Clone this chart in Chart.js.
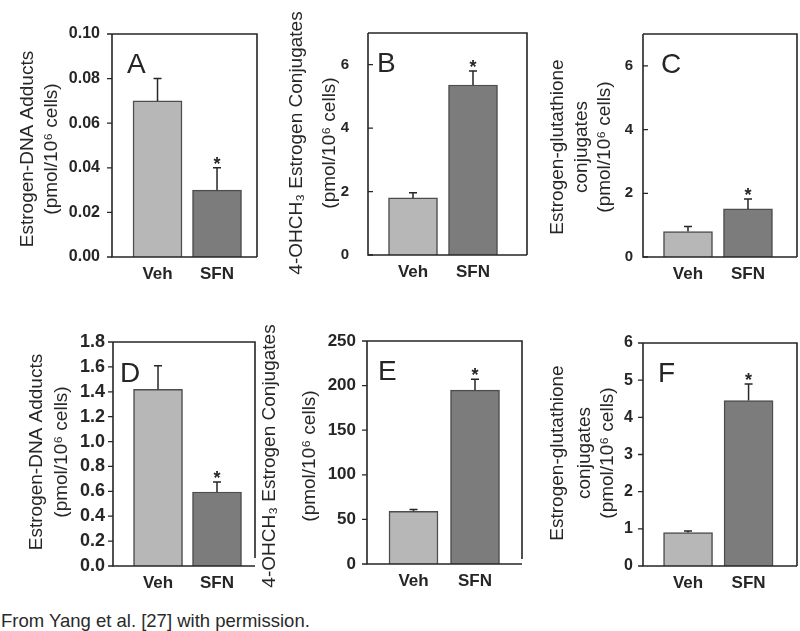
<!DOCTYPE html>
<html>
<head>
<meta charset="utf-8">
<script src="https://cdn.jsdelivr.net/npm/chart.js@4.4.0/dist/chart.umd.min.js"></script>
<style>
  body { margin: 0; background: #fff; width: 800px; height: 631px; position: relative; overflow: hidden; font-family: 'Liberation Sans', Arial, sans-serif; }
  canvas { position: absolute; }
  #note { position: absolute; left: 1px; top: 611px; font-size: 18.5px; line-height: 20px; color: #2a2a2a; white-space: nowrap; }
</style>
</head>
<body>
<canvas id="chart-a"></canvas>
<canvas id="chart-b"></canvas>
<canvas id="chart-c"></canvas>
<canvas id="chart-d"></canvas>
<canvas id="chart-e"></canvas>
<canvas id="chart-f"></canvas>
<div id="note">From Yang et al. [27] with permission.</div>
<script>
const GROUPS = ['Veh', 'SFN'];
const SIG = [false, true];

const A_MEANS = [0.070, 0.030];
const A_ERRORS = [0.010, 0.010];
const A_TICKS = [0, 0.02, 0.04, 0.06, 0.08, 0.10];

const B_MEANS = [1.80, 5.36];
const B_ERRORS = [0.16, 0.44];
const B_TICKS = [0, 2, 4, 6];

const C_MEANS = [0.80, 1.51];
const C_ERRORS = [0.16, 0.31];
const C_TICKS = [0, 2, 4, 6];

const D_MEANS = [1.42, 0.595];
const D_ERRORS = [0.19, 0.08];
const D_TICKS = [0, 0.2, 0.4, 0.6, 0.8, 1.0, 1.2, 1.4, 1.6, 1.8];

const E_MEANS = [59, 195];
const E_ERRORS = [2, 12];
const E_TICKS = [0, 50, 100, 150, 200, 250];

const F_MEANS = [0.90, 4.45];
const F_ERRORS = [0.04, 0.45];
const F_TICKS = [0, 1, 2, 3, 4, 5, 6];

const ADDUCT_TITLE = ['Estrogen-DNA Adducts', '(pmol/10\u2076 cells)'];
const METHYL_TITLE = ['4-OHCH\u2083 Estrogen Conjugates', '(pmol/10\u2076 cells)'];
const GSH_TITLE = ['Estrogen-glutathione', 'conjugates', '(pmol/10\u2076 cells)'];

const FONT = "'Liberation Sans', Arial, sans-serif";
const INK = '#262626';
const BAR_FILLS = ['#b7b7b7', '#7c7c7c'];
const ROW_H = 300;

Chart.defaults.font.family = FONT;
Chart.defaults.color = INK;

const panels = [
  { id: 'chart-a', letter: 'A', means: A_MEANS, errors: A_ERRORS, ticks: A_TICKS, max: 0.1, decimals: 2,
    title: ADDUCT_TITLE, ox: 0, oy: 0, box: [112, 34, 257, 257], xRange: [-0.765, 1.672],
    tickFont: { size: 16, weight: 'bold' }, tickDir: -1, gap: 12, rightGap: 0,
    titleX: [28, 52], titleY: 149, letterPos: [127, 73] },
  { id: 'chart-b', letter: 'B', means: B_MEANS, errors: B_ERRORS, ticks: B_TICKS, max: 7, decimals: 0,
    title: METHYL_TITLE, ox: 258, oy: 0, box: [368, 33, 527, 255], xRange: [-0.75, 1.9],
    tickFont: { size: 15, weight: 'bold' }, tickDir: 1, gap: 19, rightGap: 0,
    titleX: [297, 330], titleY: 143, letterPos: [377, 72] },
  { id: 'chart-c', letter: 'C', means: C_MEANS, errors: C_ERRORS, ticks: C_TICKS, max: 7, decimals: 0,
    title: GSH_TITLE, ox: 540, oy: 0, box: [643, 34, 797, 257], xRange: [-0.75, 1.817],
    tickFont: { size: 15, weight: 'bold' }, tickDir: 1, gap: 10, rightGap: 0,
    titleX: [558, 582, 605], titleY: 147, letterPos: [661, 73] },
  { id: 'chart-d', letter: 'D', means: D_MEANS, errors: D_ERRORS, ticks: D_TICKS, max: 1.8, decimals: 1,
    title: ADDUCT_TITLE, ox: 0, oy: 300, box: [113, 342, 255, 566], xRange: [-0.763, 1.644],
    tickFont: { size: 18, weight: 'bold' }, tickDir: -1, gap: 8, rightGap: 8,
    titleX: [37, 62], titleY: 452, letterPos: [120, 382] },
  { id: 'chart-e', letter: 'E', means: E_MEANS, errors: E_ERRORS, ticks: E_TICKS, max: 250, decimals: 0,
    title: METHYL_TITLE, ox: 258, oy: 300, box: [367, 341, 522, 564], xRange: [-0.756, 1.764],
    tickFont: { size: 17, weight: 'bold' }, tickDir: -1, gap: 11, rightGap: 5,
    titleX: [270, 310], titleY: 456, letterPos: [378, 380] },
  { id: 'chart-f', letter: 'F', means: F_MEANS, errors: F_ERRORS, ticks: F_TICKS, max: 6, decimals: 0,
    title: GSH_TITLE, ox: 540, oy: 300, box: [643, 343, 797, 566], xRange: [-0.744, 1.80],
    tickFont: { size: 16, weight: 'bold' }, tickDir: -1, gap: 10, rightGap: 0,
    titleX: [558, 585, 608], titleY: 453, letterPos: [658, 382] },
];

// error bars, asterisks, frame, tick marks, axis titles and panel letter
function makeDeco(p) {
  return {
    id: 'deco',
    afterDatasetsDraw(chart) {
      const ctx = chart.ctx;
      const ys = chart.scales.y;
      const bars = chart.getDatasetMeta(0).data;
      ctx.save();
      ctx.strokeStyle = INK;
      ctx.fillStyle = INK;
      ctx.lineWidth = 1.5;
      bars.forEach((bar, i) => {
        const top = ys.getPixelForValue(p.means[i] + p.errors[i]);
        ctx.beginPath();
        ctx.moveTo(bar.x, bar.y);
        ctx.lineTo(bar.x, top);
        ctx.moveTo(bar.x - 4, top);
        ctx.lineTo(bar.x + 4, top);
        ctx.stroke();
        if (SIG[i]) {
          ctx.font = 'bold 18px ' + FONT;
          ctx.textAlign = 'center';
          ctx.textBaseline = 'alphabetic';
          ctx.fillText('*', bar.x, top + 2);
        }
      });
      ctx.restore();
    },
    afterDraw(chart) {
      const ctx = chart.ctx;
      const { left, top, right, bottom } = chart.chartArea;
      const ys = chart.scales.y;
      ctx.save();
      ctx.strokeStyle = INK;
      ctx.lineWidth = 1.6;
      ctx.beginPath();
      ctx.moveTo(left, top);
      ctx.lineTo(left, bottom);
      ctx.lineTo(right, bottom);
      ctx.moveTo(left, top);
      ctx.lineTo(right, top);
      ctx.lineTo(right, bottom - p.rightGap);
      ctx.stroke();

      ctx.lineWidth = 1.3;
      ctx.beginPath();
      p.ticks.forEach((v) => {
        const y = ys.getPixelForValue(v);
        ctx.moveTo(left, y);
        ctx.lineTo(left + 5 * p.tickDir, y);
      });
      ctx.stroke();

      ctx.fillStyle = INK;
      ctx.font = '19px ' + FONT;
      ctx.textAlign = 'center';
      ctx.textBaseline = 'middle';
      p.title.forEach((line, i) => {
        ctx.save();
        ctx.translate(p.titleX[i] - p.ox, p.titleY - p.oy);
        ctx.rotate(-Math.PI / 2);
        ctx.fillText(line, 0, 0);
        ctx.restore();
      });

      ctx.font = '28px ' + FONT;
      ctx.textAlign = 'left';
      ctx.textBaseline = 'alphabetic';
      ctx.fillText(p.letter, p.letterPos[0] - p.ox, p.letterPos[1] - p.oy);
      ctx.restore();
    },
  };
}

function makeChart(p) {
  const [l, t, r, b] = p.box;
  const canvas = document.getElementById(p.id);
  canvas.width = r + 4 - p.ox;
  canvas.height = ROW_H;
  canvas.style.left = p.ox + 'px';
  canvas.style.top = p.oy + 'px';

  return new Chart(canvas, {
    type: 'bar',
    data: {
      datasets: [
        {
          data: p.means.map((v, i) => ({ x: i, y: v })),
          backgroundColor: BAR_FILLS,
          borderColor: '#4d4d4d',
          borderWidth: 1.5,
          barThickness: 49,
        },
      ],
    },
    options: {
      responsive: false,
      animation: false,
      layout: { padding: { top: t - p.oy, right: 4, bottom: 0, left: 0 } },
      plugins: {
        legend: { display: false },
        tooltip: { enabled: false },
      },
      scales: {
        x: {
          type: 'linear',
          min: p.xRange[0],
          max: p.xRange[1],
          offset: false,
          grid: { display: false, drawTicks: false },
          border: { display: false },
          afterBuildTicks: (s) => { s.ticks = GROUPS.map((g, i) => ({ value: i })); },
          afterFit: (s) => { s.height = p.oy + ROW_H - b; },
          ticks: {
            callback: (v) => GROUPS[v],
            font: { size: 17, weight: 'bold' },
            color: INK,
            padding: 7,
            maxRotation: 0,
            autoSkip: false,
          },
        },
        y: {
          min: 0,
          max: p.max,
          grid: { display: false, drawTicks: false },
          border: { display: false },
          afterBuildTicks: (s) => { s.ticks = p.ticks.map((v) => ({ value: v })); },
          afterFit: (s) => { s.width = l - p.ox; },
          ticks: {
            callback: (v) => Number(v).toFixed(p.decimals),
            font: p.tickFont,
            color: INK,
            padding: p.gap,
            autoSkip: false,
          },
        },
      },
    },
    plugins: [makeDeco(p)],
  });
}

panels.forEach(makeChart);
</script>
</body>
</html>
